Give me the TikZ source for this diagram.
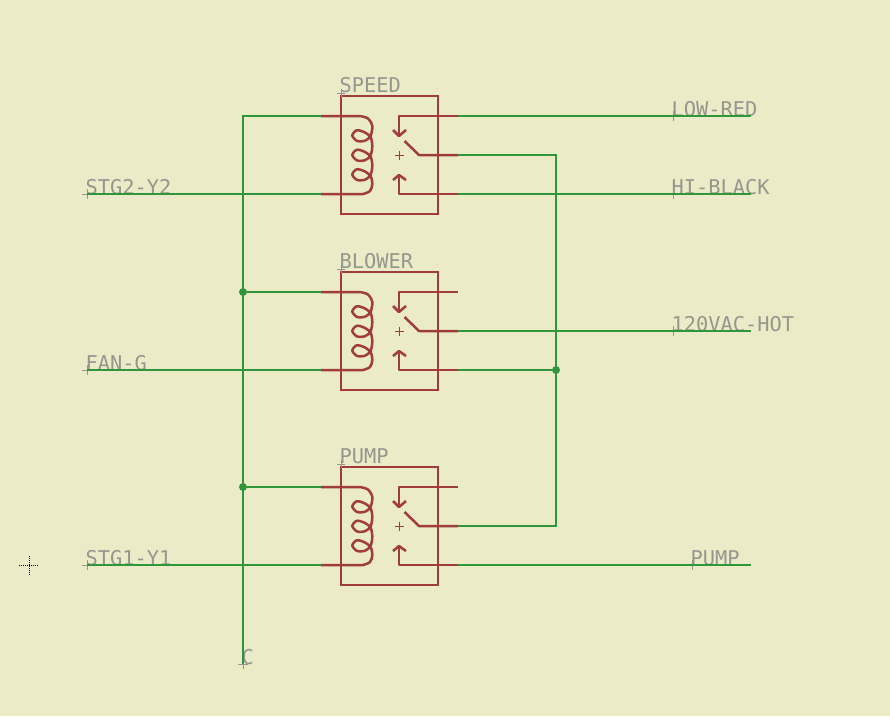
\documentclass[tikz,border=0pt]{standalone}
\usepackage{fontspec}
\newfontfamily\eaglefont{DejaVu Sans Mono}
\definecolor{bgcol}{HTML}{EBEBC8}
\definecolor{netcol}{HTML}{2F963C}
\definecolor{symcol}{HTML}{A03C3C}
\definecolor{txtcol}{HTML}{96968E}
\tikzset{
  net/.style={draw=netcol,line width=2.5pt,line join=miter},
  sym/.style={draw=symcol,line width=2.5pt,line join=round},
  thinsym/.style={draw=symcol,line width=0.9pt},
  lab/.style={text=txtcol,font=\eaglefont\fontsize{20.35}{24}\selectfont,anchor=base west,inner sep=0pt,outer sep=0pt},
  org/.style={draw=txtcol,line width=0.9pt},
  dot/.style={circle,fill=netcol,inner sep=0pt,minimum size=8pt},
  relaybox/.style={draw=symcol,line width=2.5pt,anchor=north west,inner sep=0pt,outer sep=0pt,minimum width=97pt,minimum height=118pt}
}
% #1 name, #2 top of the box, #3 label
\newcommand{\relayblock}[3]{
  \begin{scope}[shift={(341,#2)}]
    \node[relaybox] (#1) at (0,0) {};
    \coordinate (#1-a) at (-20,20);
    \coordinate (#1-b) at (-20,98);
    \coordinate (#1-ca) at (117,20);
    \coordinate (#1-cc) at (117,59);
    \coordinate (#1-cb) at (117,98);
    \draw[org] (-4,-3) -- (4,-3) (0,-7) -- (0,1);
    \node[lab] (#1-label) at (-1.5,-3.5) {#3};
    \draw[sym] (-20,20) -- (19,20) plot[smooth,tension=0.5] coordinates {(19,20)(27,22.5)(31.3,30)(29.5,40)(24,44.7)(16,44.9)(11.3,39.5)(15.7,34.3)(23,36)(29.5,41)(31.3,50)(29.5,59.5)(24,64.2)(16,64.4)(11.3,59)(15.7,53.8)(23,55.5)(29.5,60.5)(31.3,69.5)(29.5,79)(24,83.7)(16,83.9)(11.3,78.5)(15.7,73.3)(23,75)(29.5,80)(31.3,88)(29,95)(22,98)(19,98)} -- (-20,98);
    \draw[sym] (117,20) -- (58,20) -- (58,40);
    \draw[sym] (52,34) -- (58,40) -- (65,34);
    \draw[sym] (117,59) -- (78,59) -- (63.5,45);
    \draw[sym] (117,98) -- (58,98) -- (58,79);
    \draw[sym] (52,84) -- (58,79) -- (65,84);
    \draw[thinsym] (54,59) -- (63,59) (58.5,55) -- (58.5,64);
  \end{scope}
}
% #1 name, #2 x, #3 y, #4 text
\newcommand{\netlabel}[4]{
  \coordinate (#1) at (#2,#3);
  \draw[org] (#2-5,#3) -- (#2+5,#3) (#2,#3-5) -- (#2,#3+5);
  \node[lab] (#1-label) at (#2-1.5,#3) {#4};
}
\begin{document}
\begin{tikzpicture}[x=1pt,y=-1pt]
  \useasboundingbox (0,0) rectangle (890,716);
  \fill[bgcol] (0,0) rectangle (890,716);

  % cursor
  \draw[black,line width=1pt,dash pattern=on 1pt off 1pt] (19,565) -- (39,565) (29,556) -- (29,575);

  \relayblock{speed}{96}{SPEED}
  \relayblock{blower}{272}{BLOWER}
  \relayblock{pump}{467}{PUMP}

  \netlabel{stgtwo}{87}{194}{STG2-Y2}
  \netlabel{fan}{87}{370}{FAN-G}
  \netlabel{stgone}{87}{565}{STG1-Y1}
  \netlabel{lowred}{673}{116}{LOW-RED}
  \netlabel{hiblack}{673}{194}{HI-BLACK}
  \netlabel{hot}{673}{331}{120VAC-HOT}
  \netlabel{pumpout}{692}{565}{PUMP}
  \netlabel{com}{243}{664}{C}

  \coordinate (lowredEnd) at (751,116);
  \coordinate (hiblackEnd) at (751,194);
  \coordinate (hotEnd) at (751,331);
  \coordinate (pumpEnd) at (751,565);
  \coordinate (busTop) at (243,116);
  \node[dot] (jb) at (243,292) {};
  \node[dot] (jp) at (243,487) {};
  \node[dot] (jr) at (556,370) {};
  \coordinate (riserTop) at (556,155);
  \coordinate (riserBot) at (556,526);

  % nets
  \draw[net] (speed-a) -- (busTop) -- (com);
  \draw[net] (jb) -- (blower-a);
  \draw[net] (jp) -- (pump-a);
  \draw[net] (stgtwo) -- (speed-b);
  \draw[net] (fan) -- (blower-b);
  \draw[net] (stgone) -- (pump-b);
  \draw[net] (speed-ca) -- (lowredEnd);
  \draw[net] (speed-cb) -- (hiblackEnd);
  \draw[net] (blower-cc) -- (hotEnd);
  \draw[net] (pump-cb) -- (pumpEnd);
  \draw[net] (speed-cc) -- (riserTop) -- (riserBot) -- (pump-cc);
  \draw[net] (blower-cb) -- (jr);
\end{tikzpicture}
\end{document}
